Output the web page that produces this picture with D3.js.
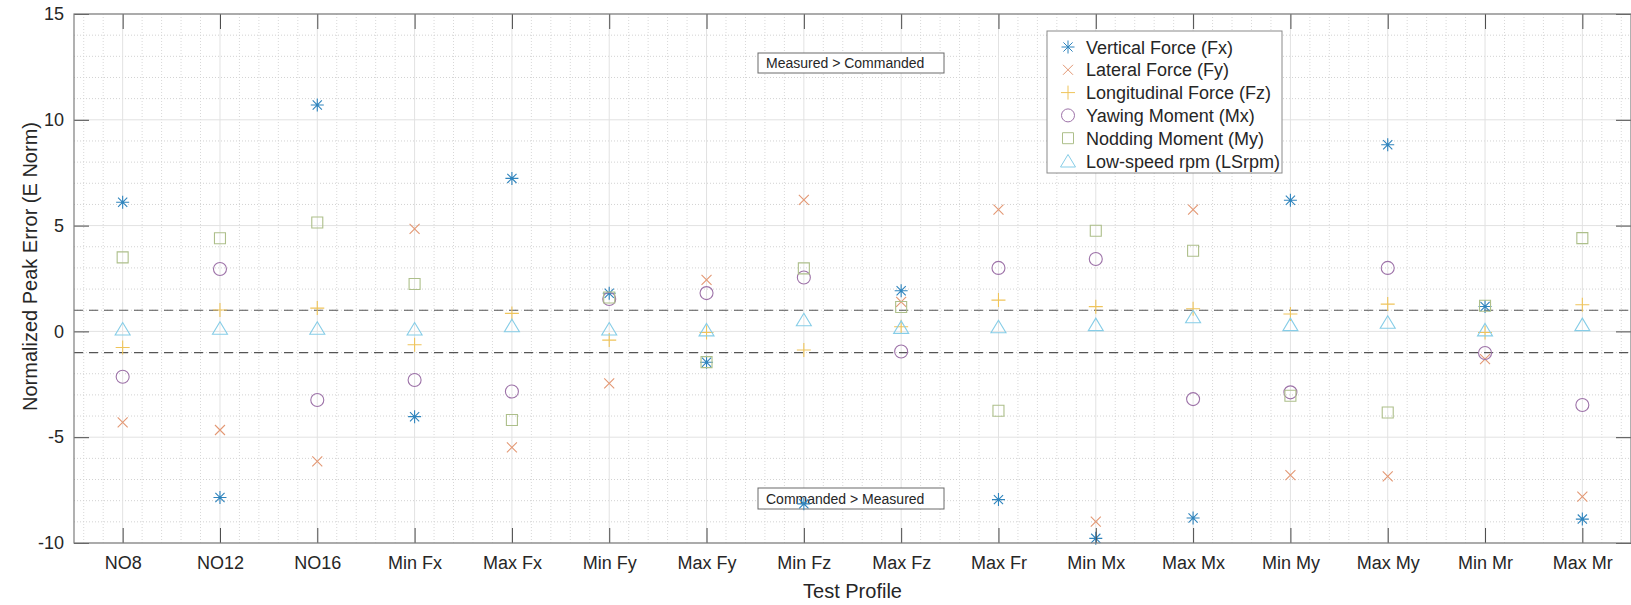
<!DOCTYPE html>
<html lang="en">
<head>
<meta charset="utf-8">
<title>Normalized Peak Error by Test Profile</title>
<style>
  html, body { margin: 0; padding: 0; background: #ffffff; }
  svg { display: block; font-family: "Liberation Sans", Arial, Helvetica, sans-serif; }
</style>
</head>
<body>
<svg id="chart"></svg>
<script src="https://cdn.jsdelivr.net/npm/d3@7"></script>
<script>
// values
const categories = ["NO8", "NO12", "NO16", "Min Fx", "Max Fx", "Min Fy", "Max Fy", "Min Fz",
  "Max Fz", "Max Fr", "Min Mx", "Max Mx", "Min My", "Max My", "Min Mr", "Max Mr"];

const verticalFx     = [6.1, -7.85, 10.7, -4.03, 7.23, 1.8, -1.46, -8.15, 1.92, -7.95, -9.78, -8.82, 6.2, 8.82, 1.18, -8.87];
const lateralFy      = [-4.3, -4.66, -6.14, 4.84, -5.48, -2.46, 2.43, 6.22, 1.4, 5.75, -8.99, 5.75, -6.79, -6.85, -1.31, -7.81];
const longitudinalFz = [-0.76, 1.01, 1.1, -0.63, 0.85, -0.41, -0.05, -0.88, 0.22, 1.48, 1.17, 1.07, 0.82, 1.29, -0.05, 1.26];
const yawingMx       = [-2.14, 2.95, -3.24, -2.3, -2.84, 1.53, 1.81, 2.55, -0.95, 3.0, 3.42, -3.2, -2.88, 3.0, -1.02, -3.48];
const noddingMy      = [3.5, 4.4, 5.15, 2.24, -4.19, 1.6, -1.45, 2.98, 1.15, -3.75, 4.76, 3.81, -3.04, -3.83, 1.21, 4.41];
const lowSpeedRpm    = [0.11, 0.15, 0.15, 0.11, 0.27, 0.11, 0.07, 0.55, 0.19, 0.22, 0.32, 0.69, 0.32, 0.43, 0.07, 0.32];

const yTicks = [-10, -5, 0, 5, 10, 15];
const bandLimits = [-1, 1];

const series = [
  { name: "Vertical Force (Fx)",     values: verticalFx,     marker: "asterisk", color: "#2f84bd" },
  { name: "Lateral Force (Fy)",      values: lateralFy,      marker: "times",    color: "#e39874" },
  { name: "Longitudinal Force (Fz)", values: longitudinalFz, marker: "plus",     color: "#efc45a" },
  { name: "Yawing Moment (Mx)",      values: yawingMx,       marker: "circle",   color: "#9d72a8" },
  { name: "Nodding Moment (My)",     values: noddingMy,      marker: "square",   color: "#adbf8a" },
  { name: "Low-speed rpm (LSrpm)",   values: lowSpeedRpm,    marker: "triangle", color: "#86cde7" }
];

const W = 1631, H = 605;
const plot = { left: 74, right: 1631, top: 14, bottom: 543 };
const tickLen = 15;

const svg = d3.select("#chart").attr("width", W).attr("height", H);

const x = d3.scaleLinear().domain([0.5, categories.length + 0.5]).range([plot.left, plot.right]);
const y = d3.scaleLinear().domain([-10, 15]).range([plot.bottom, plot.top]);

// grid - minor first, then major
const grid = svg.append("g");
const minorX = d3.range(0.6, categories.length + 0.5, 0.2).filter(v => Math.abs(v - Math.round(v)) > 0.01);
const minorY = d3.range(-9, 15, 1).filter(v => v % 5 !== 0);

grid.selectAll(".mx").data(minorX).join("line")
  .attr("x1", d => x(d)).attr("x2", d => x(d))
  .attr("y1", plot.top).attr("y2", plot.bottom)
  .attr("stroke", "#d8d8d8").attr("stroke-dasharray", "1,2");
grid.selectAll(".my").data(minorY).join("line")
  .attr("x1", plot.left).attr("x2", plot.right)
  .attr("y1", d => y(d)).attr("y2", d => y(d))
  .attr("stroke", "#d2d2d2").attr("stroke-dasharray", "1,2");
grid.selectAll(".gx").data(d3.range(1, categories.length + 1)).join("line")
  .attr("x1", d => x(d)).attr("x2", d => x(d))
  .attr("y1", plot.top).attr("y2", plot.bottom)
  .attr("stroke", "#e2e2e2");
grid.selectAll(".gy").data(yTicks).join("line")
  .attr("x1", plot.left).attr("x2", plot.right)
  .attr("y1", d => y(d)).attr("y2", d => y(d))
  .attr("stroke", "#e2e2e2");

// dashed +/-1 limits
svg.append("g").selectAll("line").data(bandLimits).join("line")
  .attr("x1", plot.left).attr("x2", plot.right)
  .attr("y1", d => y(d)).attr("y2", d => y(d))
  .attr("stroke", "#555").attr("stroke-width", 1.2).attr("stroke-dasharray", "9,6");

// annotation boxes (markers sit on top of them)
function noteBox(x0, y0, w, h, label) {
  const g = svg.append("g");
  g.append("rect").attr("x", x0).attr("y", y0).attr("width", w).attr("height", h)
    .attr("fill", "#fff").attr("stroke", "#6a6a6a").attr("stroke-width", 1);
  g.append("text").attr("x", x0 + 8).attr("y", y0 + h / 2 + 5)
    .attr("font-size", 14).attr("fill", "#262626").text(label);
}
noteBox(758, 53, 186, 20, "Measured > Commanded");
noteBox(758, 488, 186, 21, "Commanded > Measured");

// marker shapes, roughly matlab sized
function markerPath(type) {
  switch (type) {
    case "asterisk": {
      const s = 6.5, d = 4.6;
      return `M0,${-s}L0,${s}M${-s},0L${s},0M${-d},${-d}L${d},${d}M${-d},${d}L${d},${-d}`;
    }
    case "times": { const d = 5; return `M${-d},${-d}L${d},${d}M${-d},${d}L${d},${-d}`; }
    case "plus": { const s = 7; return `M0,${-s}L0,${s}M${-s},0L${s},0`; }
    case "circle": { const r = 6.5; return `M${r},0A${r},${r} 0 1,1 ${-r},0A${r},${r} 0 1,1 ${r},0Z`; }
    case "square": { const s = 5.5; return `M${-s},${-s}H${s}V${s}H${-s}Z`; }
    case "triangle": return "M0,-6.5L7.5,6L-7.5,6Z";
  }
}

const marks = svg.append("g");
series.forEach(s => {
  marks.append("g").selectAll("path").data(s.values).join("path")
    .attr("transform", (d, i) => `translate(${x(i + 1)},${y(d)})`)
    .attr("d", markerPath(s.marker))
    .attr("fill", "none").attr("stroke", s.color).attr("stroke-width", 1.1);
});

// axes
const fmt = d => String(d);
svg.append("g").attr("transform", `translate(${plot.left},0)`)
  .call(d3.axisLeft(y).tickValues(yTicks).tickSize(-tickLen).tickPadding(10).tickFormat(fmt));
svg.append("g").attr("transform", `translate(${plot.right},0)`)
  .call(d3.axisRight(y).tickValues(yTicks).tickSize(-tickLen).tickFormat(""));
svg.append("g").attr("transform", `translate(0,${plot.bottom})`)
  .call(d3.axisBottom(x).tickValues(d3.range(1, categories.length + 1)).tickSize(-tickLen)
    .tickPadding(13).tickFormat(d => categories[d - 1]));
svg.append("g").attr("transform", `translate(0,${plot.top})`)
  .call(d3.axisTop(x).tickValues(d3.range(1, categories.length + 1)).tickSize(-tickLen).tickFormat(""));

svg.selectAll(".domain").remove();
svg.selectAll(".tick line").attr("stroke", "#4a4a4a");
svg.selectAll(".tick text").attr("font-size", 18).attr("fill", "#262626")
  .attr("font-family", "'Liberation Sans', Arial, sans-serif");

svg.append("rect")
  .attr("x", plot.left).attr("y", plot.top)
  .attr("width", plot.right - plot.left).attr("height", plot.bottom - plot.top)
  .attr("fill", "none").attr("stroke", "#7d7d7d").attr("stroke-width", 1.2);

// axis titles
svg.append("text")
  .attr("x", (plot.left + plot.right) / 2).attr("y", 598)
  .attr("text-anchor", "middle").attr("font-size", 20).attr("fill", "#262626")
  .text("Test Profile");
svg.append("text")
  .attr("transform", `translate(37,${(plot.top + plot.bottom) / 2 - 12}) rotate(-90)`)
  .attr("text-anchor", "middle").attr("font-size", 20).attr("fill", "#262626")
  .text("Normalized Peak Error (E Norm)");

// legend
const legend = svg.append("g").attr("transform", "translate(1047,31)");
legend.append("rect").attr("width", 235).attr("height", 142)
  .attr("fill", "#fff").attr("stroke", "#8a8a8a").attr("stroke-width", 1);
const rows = legend.selectAll(".row").data(series).join("g")
  .attr("transform", (d, i) => `translate(0,${16 + i * 22.8})`);
rows.append("path")
  .attr("transform", "translate(21,0)")
  .attr("d", d => markerPath(d.marker))
  .attr("fill", "none").attr("stroke", d => d.color).attr("stroke-width", 1);
rows.append("text").attr("x", 39).attr("y", 6.5)
  .attr("font-size", 18).attr("fill", "#262626").text(d => d.name);
</script>
</body>
</html>
